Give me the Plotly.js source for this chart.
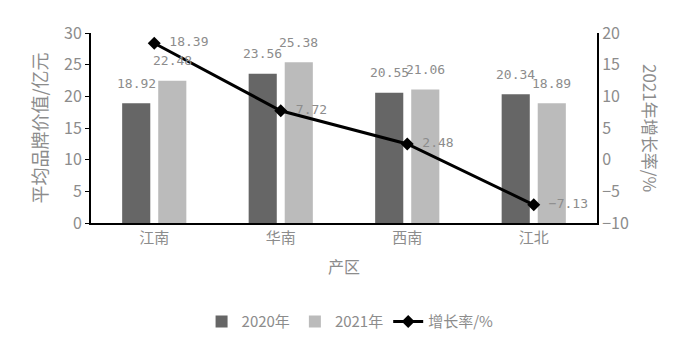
<!DOCTYPE html>
<html><head><meta charset="utf-8">
<script src="https://cdn.plot.ly/plotly-3.0.1.min.js"></script>
<style>body{margin:0;background:#fff}#chart{width:700px;height:356px}</style>
</head><body><div id="chart"></div>
<script>
const categories = ["江南", "华南", "西南", "江北"];
const value2020 = [18.92, 23.56, 20.55, 20.34];
const value2021 = [22.48, 25.38, 21.06, 18.89];
const growth = [18.39, 7.72, 2.48, -7.13];
const leftTicks = [0, 5, 10, 15, 20, 25, 30];
const rightTicks = [-10, -5, 0, 5, 10, 15, 20];
const rightTickText = ["−10", "−5", "0", "5", "10", "15", "20"];

const font = "Noto Sans CJK SC, Noto Sans, sans-serif";
const mono = "DejaVu Sans Mono, monospace";
const gray = "#8c8c8c";

const traces = [
  {type: "bar", name: "2020年", x: categories, y: value2020,
   marker: {color: "#666666"}},
  {type: "bar", name: "2021年", x: categories, y: value2021,
   marker: {color: "#bbbbbb"}},
  {type: "scatter", mode: "lines+markers+text", name: "增长率/%", x: categories, y: growth,
   yaxis: "y2", line: {color: "#000", width: 3},
   marker: {symbol: "diamond", size: 10, color: "#000"},
   text: growth.map(v => "\u00a0" + (v < 0 ? "−" + Math.abs(v).toFixed(2) : v.toFixed(2))),
   textposition: "middle right", cliponaxis: false,
   textfont: {family: mono, size: 13, color: gray}}
];

const barLabels = [];
categories.forEach((c, i) => {
  barLabels.push({x: c, y: value2020[i], xref: "x", yref: "y", text: value2020[i].toFixed(2),
    showarrow: false, xshift: -18, yshift: 20, yanchor: "middle",
    font: {family: mono, size: 13, color: gray}});
  barLabels.push({x: c, y: value2021[i], xref: "x", yref: "y", text: value2021[i].toFixed(2),
    showarrow: false, xshift: 18, yshift: 20, yanchor: "middle",
    font: {family: mono, size: 13, color: gray}});
});

const layout = {
  width: 700, height: 356,
  margin: {l: 91, r: 103, t: 33, b: 133},
  paper_bgcolor: "#fff", plot_bgcolor: "#fff",
  font: {family: font, color: gray, size: 15},
  barmode: "group", bargap: 0.43, bargroupgap: 0.22,
  showlegend: true,
  legend: {orientation: "h", x: 0.512, xanchor: "center", y: -0.52, yanchor: "middle",
           font: {size: 15, color: gray}, traceorder: "normal"},
  xaxis: {showline: true, linecolor: "#000", linewidth: 2, ticks: "",
          tickfont: {size: 15, color: gray},
          title: {text: "产区", font: {size: 16, color: gray}, standoff: 16}},
  yaxis: {range: [0, 30], tickvals: leftTicks, showgrid: false, zeroline: false,
          showline: true, linecolor: "#000", linewidth: 2, ticks: "outside",
          ticklen: 4, tickcolor: "#000", tickfont: {size: 16, color: gray},
          title: {text: "平均品牌价值/亿元", font: {size: 18, color: gray}, standoff: 12}},
  yaxis2: {range: [-10, 20], tickvals: rightTicks, ticktext: rightTickText,
           overlaying: "y", side: "right", showgrid: false, zeroline: false,
           showline: true, linecolor: "#000", linewidth: 2, ticks: "",
           tickfont: {size: 16, color: gray}},
  annotations: barLabels.concat([{text: "2021年增长率/%", xref: "paper", yref: "paper",
                 x: (651 - 91) / 506, y: 0.5, xanchor: "center", yanchor: "middle",
                 textangle: 90, showarrow: false,
                 font: {size: 17, color: gray}}])
};

Plotly.newPlot("chart", traces, layout, {displayModeBar: false});
</script></body></html>
